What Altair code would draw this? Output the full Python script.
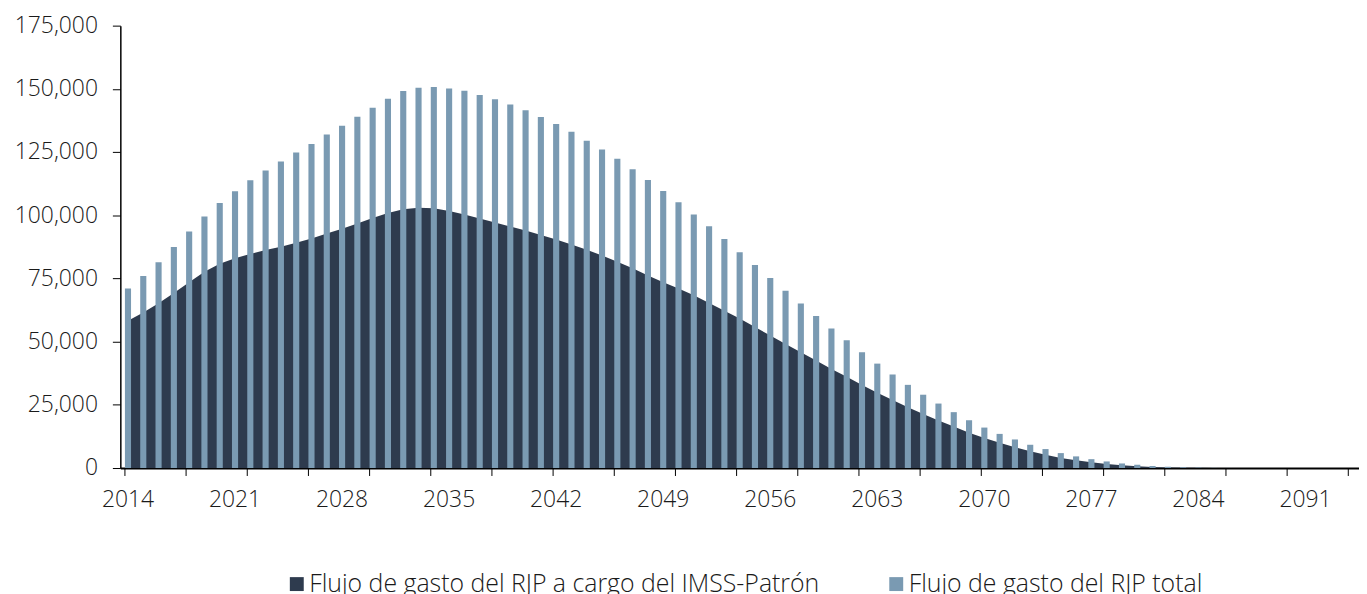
import altair as alt
import pandas as pd

years = list(range(2014, 2095))

total = [71000, 76000, 81400, 87400, 93600, 99500, 104800, 109500, 113800, 117700,
         121300, 124800, 128200, 131900, 135400, 139000, 142500, 146100, 149100, 150400,
         150700, 150100, 149200, 147600, 145900, 143800, 141500, 138900, 136100, 133000,
         129500, 126000, 122300, 118200, 113900, 109600, 105100, 100300, 95600, 90600,
         85400, 80300, 75200, 70100, 65100, 60100, 55200, 50500, 45800, 41300,
         37000, 32900, 29000, 25500, 22100, 18900, 16000, 13500, 11300, 9200,
         7500, 5900, 4600, 3500, 2600, 1800, 1300, 800, 500, 300,
         150, 70, 30, 10, 0, 0, 0, 0, 0, 0, 0]

imss = [58300, 61500, 65200, 69200, 73500, 77600, 80800, 83000, 84700, 86200,
        87500, 89100, 90800, 92800, 94700, 96700, 98900, 100900, 102400, 103000,
        102800, 101700, 100300, 98700, 97100, 95500, 94000, 92200, 90400, 88400,
        86300, 84100, 81600, 79000, 76200, 73500, 71000, 68300, 65300, 62200,
        59100, 55800, 52400, 49100, 45800, 42500, 39200, 36100, 32800, 29800,
        26900, 24000, 21400, 18800, 16400, 14000, 11900, 10000, 8200, 6600,
        5200, 4000, 3100, 2300, 1600, 1050, 660, 400, 250, 130,
        60, 20, 0, 0, 0, 0, 0, 0, 0, 0, 0]

label_years = [2014, 2021, 2028, 2035, 2042, 2049, 2056, 2063, 2070, 2077, 2084, 2091]
tick_years = [2014, 2018, 2022, 2026, 2030, 2034, 2038, 2042, 2046, 2050, 2054,
              2058, 2062, 2066, 2070, 2074, 2078, 2082, 2086, 2090, 2094]
y_ticks = [0, 25000, 50000, 75000, 100000, 125000, 150000, 175000]

s1 = "Flujo de gasto del RJP a cargo del IMSS-Patrón"
s2 = "Flujo de gasto del RJP total"
dark = "#2e3b4e"
light = "#7a9ab2"

FONT = "Open Sans"
FW = 300
FS = 23
LFS = 25
TXT = "#1a1a1a"

df = pd.DataFrame({
    "year": years + years,
    "valor": imss + total,
    "serie": [s1] * len(years) + [s2] * len(years),
})
ticks_df = pd.DataFrame({"year": tick_years})

xscale = alt.Scale(domain=years, paddingInner=0.6, paddingOuter=0.3)
xaxis = alt.Axis(
    values=label_years, ticks=False, tickSize=0, labelAngle=0,
    labelFontSize=FS, labelFont=FONT, labelFontWeight=FW, labelColor=TXT,
    labelPadding=21, domainColor="#000000", domainWidth=2, grid=False, title=None,
)
yscale = alt.Scale(domain=[0, 175000], nice=False)
yaxis = alt.Axis(
    values=y_ticks, labelExpr="format(datum.value, ',')",
    tickSize=8, tickColor="#000000", tickWidth=1,
    labelPadding=15, labelFontSize=FS, labelFont=FONT, labelFontWeight=FW,
    labelColor=TXT, domainColor="#000000", domainWidth=1.5, grid=False, title=None,
)

X = alt.X("year:O", scale=xscale, axis=xaxis, title=None)
Y = alt.Y("valor:Q", stack=None, scale=yscale, axis=yaxis, title=None)

color = alt.Color(
    "serie:N",
    scale=alt.Scale(domain=[s1, s2], range=[dark, light]),
    legend=alt.Legend(
        title=None, orient="none", legendX=165, legendY=549,
        direction="horizontal", symbolType="square", symbolSize=196,
        symbolStrokeWidth=0, labelFontSize=LFS, labelFont=FONT, labelFontWeight=FW,
        labelColor=TXT, labelOffset=0, columnPadding=64, padding=0,
        labelLimit=1000,
    ),
)

area = alt.Chart(df).transform_filter(alt.datum.serie == s1).mark_area(
    interpolate="linear", opacity=1
).encode(x=X, y=Y, color=color)

bars = alt.Chart(df).transform_filter(alt.datum.serie == s2).mark_bar(
    opacity=1
).encode(x=X, y=Y, color=color)

xticks = alt.Chart(ticks_df).mark_rule(color="#000000", strokeWidth=1).encode(
    x=alt.X("year:O", scale=xscale, axis=xaxis, title=None, bandPosition=0),
    y=alt.value(445),
    y2=alt.value(453),
)

chart = alt.layer(area, bars, xticks).properties(
    width=1246, height=445,
    autosize=alt.AutoSizeParams(type="none"),
    padding={"left": 113, "top": 16, "right": 0, "bottom": 128},
    background="white",
).configure_view(stroke=None)

chart.save("out.html", embed_options={"renderer": "svg", "actions": False})
